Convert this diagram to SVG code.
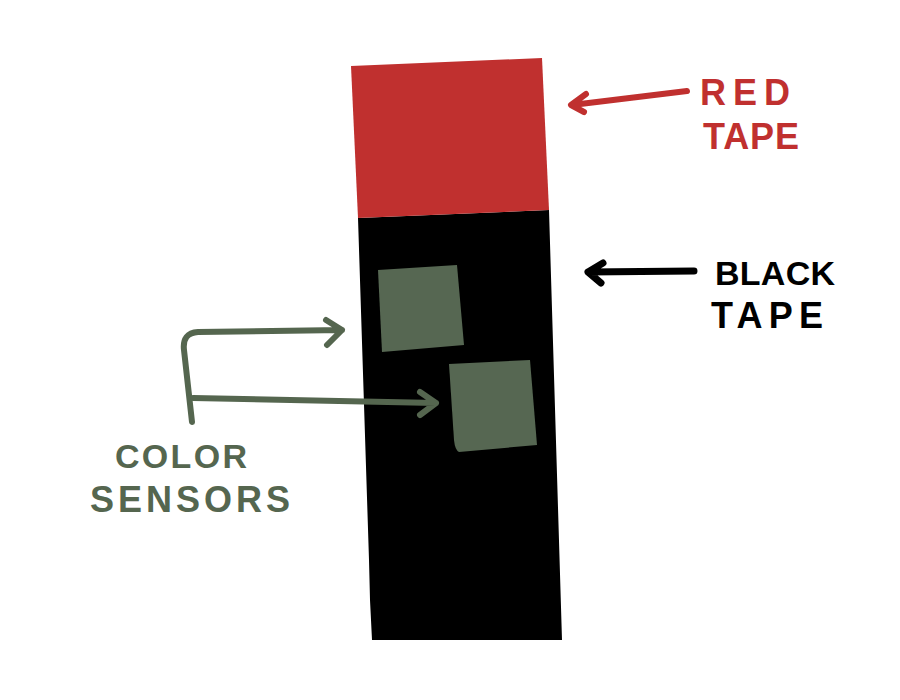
<svg xmlns="http://www.w3.org/2000/svg" width="900" height="700" viewBox="0 0 900 700">
<style>
.lbl{font-family:"Liberation Sans","DejaVu Sans",sans-serif;font-weight:bold;}
.red{fill:#c0302f}
.blk{fill:#000}
.grn{fill:#55664f}
.arr{fill:none;stroke-linecap:round;stroke-linejoin:round}
</style>
<rect width="900" height="700" fill="#fff"/>
<g id="black-tape"><path d="M358,218 L549,210 L562,640 L372,640 L370,600 L369,560 Z" fill="#000"/></g>
<g id="red-tape"><path d="M351,66 L542,58 L549,210 L358,218 Z" fill="#c0302f"/></g>
<g id="sensor-1"><path d="M378,270 L457,265 L464,345 L382,352 Z" fill="#566752"/></g>
<g id="sensor-2"><path d="M449,364 L530,360 L537,445 L459,452 Q455,450 454,440 Z" fill="#566752"/></g>
<g id="connectors">
<path class="arr" stroke="#c0302f" stroke-width="6" d="M687,91 L572,105 M586,94 L571,105 L584,112"/>
<path class="arr" stroke="#000" stroke-width="7" d="M694,271 L588,272 M603,263 L588,272 L601,283"/>
<path class="arr" stroke="#55664f" stroke-width="6" d="M192,422 L184,350 Q182,333 198,332 L342,330 M326,320 L342,330 L327,345"/>
<path class="arr" stroke="#55664f" stroke-width="6" d="M193,398 L436,403 M420,392 L436,403 L420,415"/>
</g>
<g id="label-red"><text class="lbl red" font-size="36" x="700" y="105" textLength="90" lengthAdjust="spacing">RED</text><text class="lbl red" font-size="36" x="703" y="149" textLength="96" lengthAdjust="spacing">TAPE</text></g>
<g id="label-black"><text class="lbl blk" font-size="34" x="715" y="285" textLength="120" lengthAdjust="spacing">BLACK</text><text class="lbl blk" font-size="36" x="711" y="328" textLength="112" lengthAdjust="spacing">TAPE</text></g>
<g id="label-sensors"><text class="lbl grn" font-size="34" x="115" y="468" textLength="132" lengthAdjust="spacing">COLOR</text><text class="lbl grn" font-size="36" x="90" y="512" textLength="200" lengthAdjust="spacing">SENSORS</text></g>
</svg>
